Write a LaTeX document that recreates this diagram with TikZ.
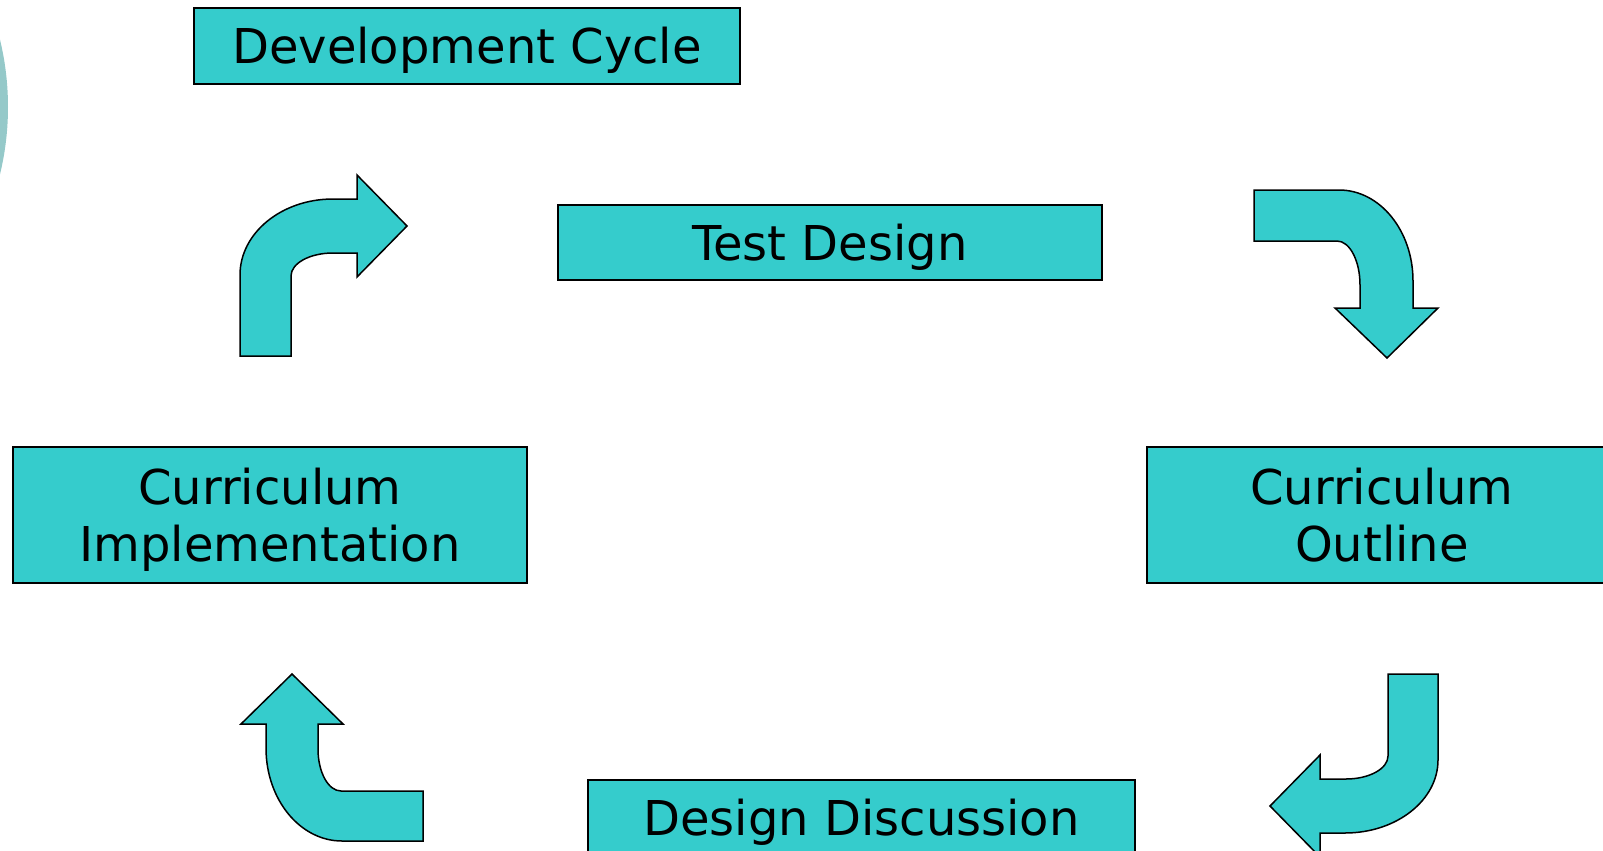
\documentclass[tikz,border=0pt]{standalone}
\usepackage{fontspec}
\setmainfont{DejaVu Sans}
\definecolor{cyanfill}{RGB}{53,204,204}
\definecolor{ringc}{RGB}{149,201,201}
\tikzset{
  box/.style={draw=black, line width=1.5pt, fill=cyanfill, inner sep=0pt,
    font=\fontsize{48}{57}\selectfont, text height=35pt, text depth=0pt},
  twoline/.style={box, align=center, text height=92pt, text depth=0pt},
  barrow/.style={draw=black, line width=1.5pt, fill=cyanfill, line join=miter}
}
\begin{document}
\begin{tikzpicture}[x=1pt,y=-1pt]
\useasboundingbox (0,0) rectangle (1603,851);
\clip (0,0) rectangle (1603,851);
% partial ring at left edge
\fill[ringc] (-277,107) circle[radius=285];
% boxes
\node[box, minimum width=546pt, minimum height=76pt] (dev) at (467,46) {Development Cycle};
\node[box, minimum width=544pt, minimum height=75pt] (test) at (830,242.5) {Test Design};
\node[twoline, minimum width=514pt, minimum height=136pt] (impl) at (270,515) {Curriculum\\Implementation};
\node[twoline, minimum width=470pt, minimum height=136pt] (outline) at (1382,515) {Curriculum\\Outline};
\node[box, minimum width=547pt, minimum height=76pt] (disc) at (861.5,818) {Design Discussion};
% arrow 1: up then right
\path[barrow] (240,356) -- (240,275)
  .. controls (240,233) and (281.6,199) .. (333,199)
  -- (357,199) -- (357,175) -- (407,226) -- (357,277) -- (357,253) -- (333,253)
  .. controls (309.8,253) and (291,263.3) .. (291,276)
  -- (291,356) -- cycle;
% arrow 2: right then down
\path[barrow] (1254,190) -- (1339,190)
  .. controls (1379.9,190) and (1413,230.7) .. (1413,281)
  -- (1413,308) -- (1438,308) -- (1387,358) -- (1335,308) -- (1360,308) -- (1360,285)
  .. controls (1360,260.7) and (1349.7,241) .. (1337,241)
  -- (1254,241) -- cycle;
% arrow 3: down then left
\path[barrow] (1388,674) -- (1438,674) -- (1438,760)
  .. controls (1438,800.3) and (1396.4,833) .. (1345,833)
  -- (1320,833) -- (1320,857) -- (1270,806) -- (1320,755) -- (1320,779) -- (1346,779)
  .. controls (1369.2,779) and (1388,768.7) .. (1388,756)
  -- cycle;
% arrow 4: left then up
\path[barrow] (423,791) -- (423,841) -- (342,841)
  .. controls (300,841) and (266,799.4) .. (266,748)
  -- (266,724) -- (241,724) -- (292,674) -- (343,724) -- (318,724) -- (318,749)
  .. controls (318,772.2) and (328.3,791) .. (341,791)
  -- cycle;
\end{tikzpicture}
\end{document}
